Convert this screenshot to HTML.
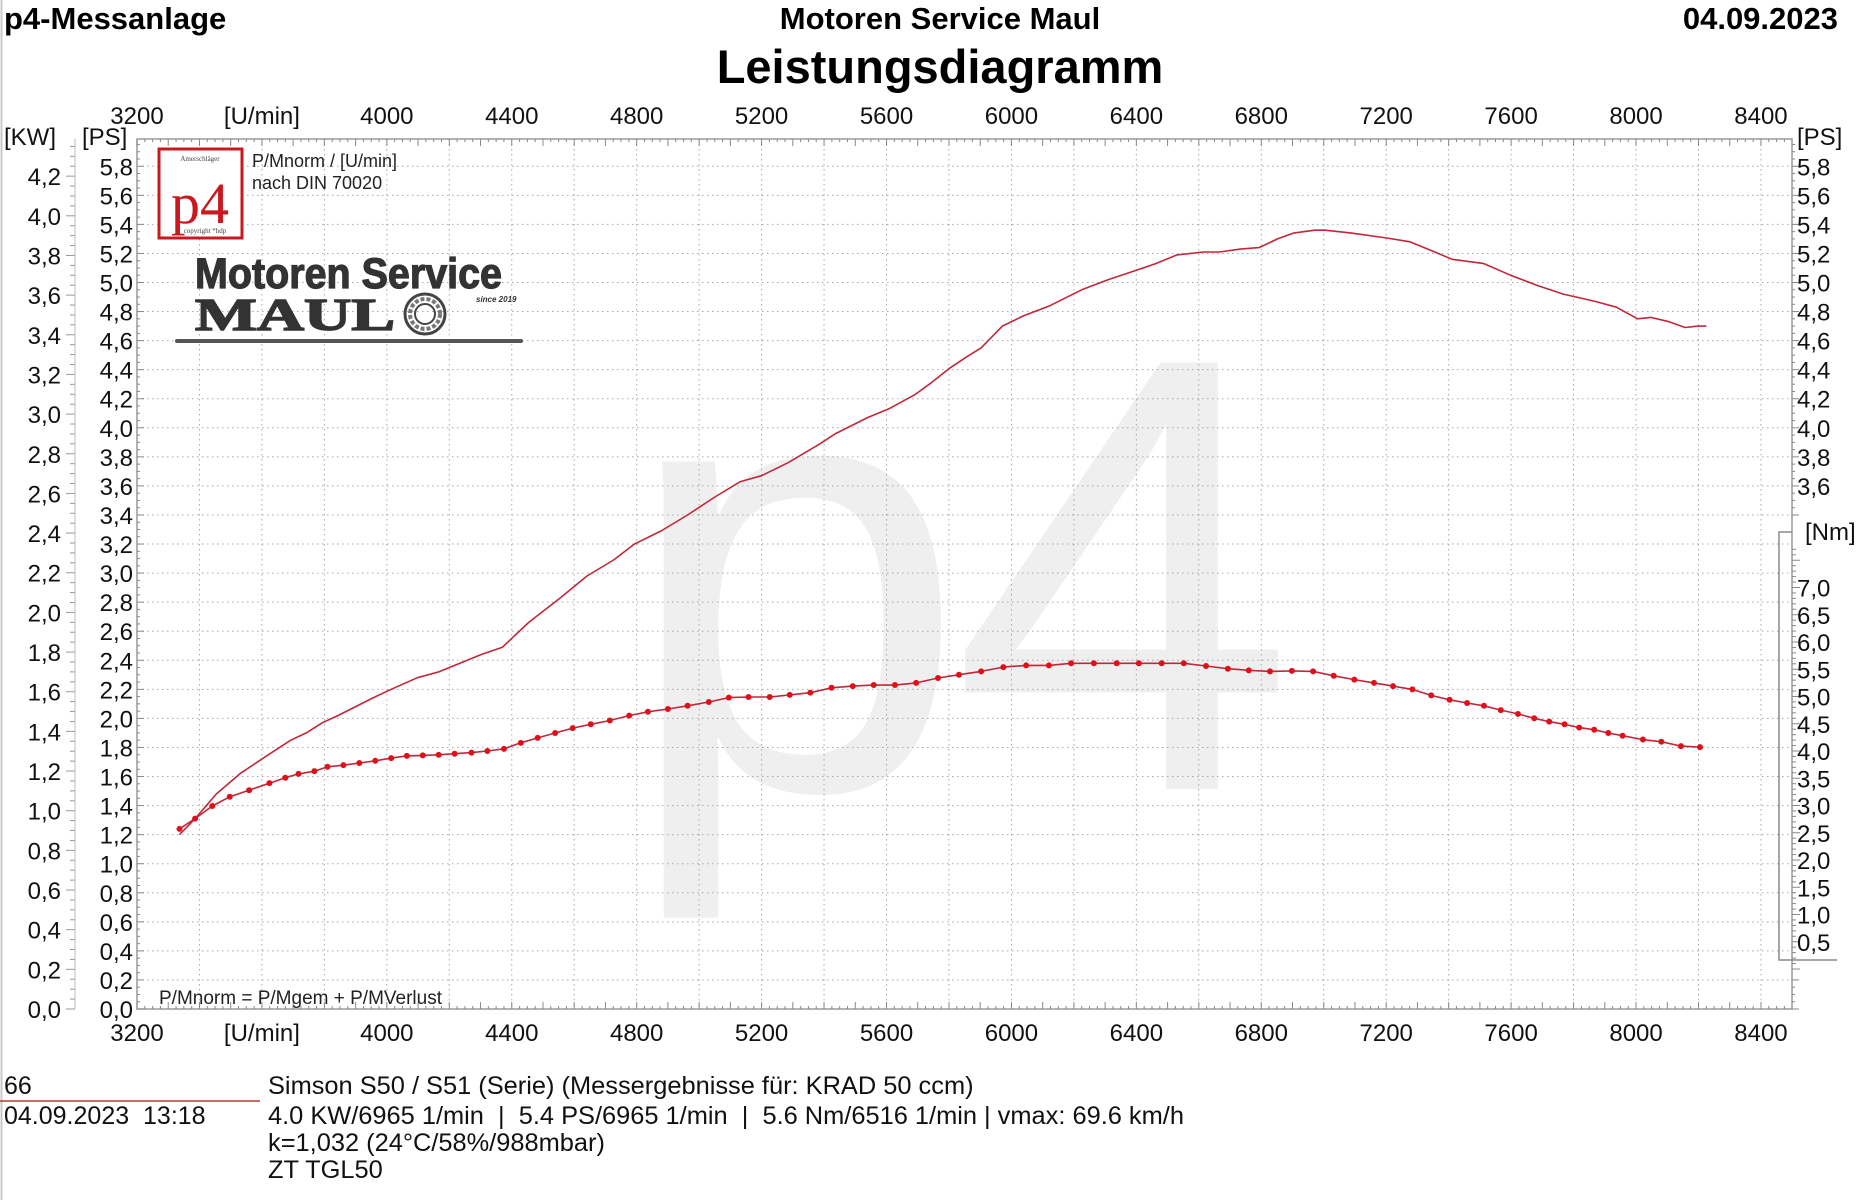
<!DOCTYPE html>
<html><head><meta charset="utf-8">
<style>
html,body{margin:0;padding:0;background:#fff;}
svg{display:block;font-family:"Liberation Sans",Arial,sans-serif;}
</style></head>
<body>
<svg id="chart" width="1866" height="1200" viewBox="0 0 1866 1200" xmlns="http://www.w3.org/2000/svg">
  <rect x="0" y="0" width="1866" height="1200" fill="#fff"/>
  <line x1="1.5" y1="0" x2="1.5" y2="1200" stroke="#c8c8c8" stroke-width="2"/>
  <!-- header -->
  <text x="4" y="29" font-size="31" font-weight="bold">p4-Messanlage</text>
  <text x="940" y="29" font-size="31" font-weight="bold" text-anchor="middle">Motoren Service Maul</text>
  <text x="940" y="83" font-size="47" font-weight="bold" text-anchor="middle">Leistungsdiagramm</text>
  <text x="1838" y="29" font-size="31" font-weight="bold" text-anchor="end">04.09.2023</text>

  <!-- watermark -->
  <g font-size="620" fill="#efefef">
    <text x="622" y="789">p</text>
    <text x="951" y="789">4</text>
  </g>

  <g id="grid"></g>
  <rect x="137" y="139" width="1655" height="870" fill="none" stroke="#9a9a9a" stroke-width="1.5"/>
  <g id="ticks"></g>
  <g id="labels"></g>

  <!-- p4 logo box -->
  <g>
    <rect x="159" y="149" width="83" height="89" fill="#fff" stroke="#c8191e" stroke-width="3"/>
    <text x="200" y="161" font-size="7" font-family="Liberation Serif,serif" text-anchor="middle" fill="#444">Amerschläger</text>
    <text x="200" y="223" font-size="58" font-family="Liberation Serif,serif" text-anchor="middle" fill="#c8191e">p4</text>
    <text x="205" y="233" font-size="7" font-family="Liberation Serif,serif" text-anchor="middle" fill="#444">copyright *hdp</text>
  </g>
  <text x="252" y="167" font-size="18" fill="#222">P/Mnorm / [U/min]</text>
  <text x="252" y="189" font-size="18" fill="#222">nach DIN 70020</text>
  <!-- company logo -->
  <g>
    <text x="195" y="288" font-size="43" font-weight="bold" fill="#333" stroke="#333" stroke-width="1.2" textLength="307" lengthAdjust="spacingAndGlyphs">Motoren Service</text>
    <text x="195" y="330" font-size="46" font-weight="bold" font-family="Liberation Serif,serif" fill="#333" stroke="#333" stroke-width="1.5" textLength="200" lengthAdjust="spacingAndGlyphs">MAUL</text>
    <circle cx="425" cy="314" r="20" fill="none" stroke="#444" stroke-width="3"/>
    <circle cx="425" cy="314" r="10" fill="none" stroke="#444" stroke-width="2"/>
    <circle cx="425" cy="314" r="15" fill="none" stroke="#777" stroke-width="4" stroke-dasharray="4 2"/>
    <text x="476" y="302" font-size="8" font-style="italic" font-weight="bold" fill="#333">since 2019</text>
    <rect x="175" y="339" width="348" height="4" rx="2" fill="#555"/>
  </g>
  <text x="159" y="1004" font-size="19" fill="#222">P/Mnorm = P/Mgem + P/MVerlust</text>

  <!-- Nm axis bracket -->
  <path d="M1792 532 H1779 V960 H1837" fill="none" stroke="#8a8a8a" stroke-width="1.5"/>

  <g id="series"></g>

  <!-- footer info -->
  <text x="4" y="1094" font-size="25" fill="#111">66</text>
  <line x1="0" y1="1101" x2="260" y2="1101" stroke="#c0392b" stroke-width="1.5"/>
  <text x="4" y="1124" font-size="25" fill="#111">04.09.2023&#160;&#160;13:18</text>
  <text x="268" y="1094" font-size="25.4" fill="#111">Simson S50 / S51 (Serie) (Messergebnisse für: KRAD 50 ccm)</text>
  <text x="268" y="1124" font-size="25.4" fill="#111">4.0 KW/6965 1/min&#160;&#160;|&#160;&#160;5.4 PS/6965 1/min&#160;&#160;|&#160;&#160;5.6 Nm/6516 1/min | vmax: 69.6 km/h</text>
  <text x="268" y="1151" font-size="25.4" fill="#111">k=1,032 (24°C/58%/988mbar)</text>
  <text x="268" y="1178" font-size="25.4" fill="#111">ZT TGL50</text>
</svg>
<script>
// ---- data ----
const rpmTicks = [3200, 3600, 4000, 4400, 4800, 5200, 5600, 6000, 6400, 6800, 7200, 7600, 8000, 8400];
const psTicksLeft = [0,0.2,0.4,0.6,0.8,1.0,1.2,1.4,1.6,1.8,2.0,2.2,2.4,2.6,2.8,3.0,3.2,3.4,3.6,3.8,4.0,4.2,4.4,4.6,4.8,5.0,5.2,5.4,5.6,5.8];
const psTicksRight = [3.6,3.8,4.0,4.2,4.4,4.6,4.8,5.0,5.2,5.4,5.6,5.8];
const kwTicks = [0,0.2,0.4,0.6,0.8,1.0,1.2,1.4,1.6,1.8,2.0,2.2,2.4,2.6,2.8,3.0,3.2,3.4,3.6,3.8,4.0,4.2];
const nmTicks = [0.5,1.0,1.5,2.0,2.5,3.0,3.5,4.0,4.5,5.0,5.5,6.0,6.5,7.0];

const powerRpm = [3336,3386,3454,3530,3607,3692,3742,3793,3844,3954,4014,4098,4166,4234,4302,4370,4454,4556,4641,4726,4793,4878,4963,5048,5132,5200,5285,5387,5437,5539,5607,5692,5743,5802,5858,5903,5971,6038,6123,6225,6310,6394,6462,6530,6615,6666,6733,6793,6852,6903,6971,7005,7089,7191,7276,7344,7411,7513,7598,7683,7767,7869,7937,8005,8047,8106,8157,8199,8225];
const powerPs = [1.20,1.31,1.48,1.62,1.73,1.85,1.90,1.97,2.02,2.14,2.20,2.28,2.32,2.38,2.44,2.49,2.66,2.83,2.98,3.09,3.20,3.29,3.40,3.52,3.63,3.67,3.76,3.89,3.96,4.07,4.13,4.23,4.31,4.41,4.49,4.55,4.70,4.77,4.84,4.95,5.02,5.08,5.13,5.19,5.21,5.21,5.23,5.24,5.30,5.34,5.36,5.36,5.34,5.31,5.28,5.22,5.16,5.13,5.05,4.98,4.92,4.87,4.83,4.75,4.76,4.73,4.69,4.70,4.70];

const torqueRpm = [3336,3386,3441,3497,3559,3624,3675,3717,3768,3810,3861,3912,3963,4014,4064,4115,4166,4217,4271,4322,4375,4429,4483,4539,4595,4653,4714,4776,4836,4900,4963,5031,5095,5158,5226,5290,5356,5424,5492,5559,5627,5695,5765,5832,5903,5974,6047,6120,6191,6264,6337,6408,6481,6552,6623,6693,6760,6828,6898,6966,7032,7098,7161,7222,7284,7344,7403,7459,7513,7567,7622,7674,7722,7771,7818,7866,7911,7957,8022,8081,8144,8205];
const torqueNm = [2.57,2.76,2.99,3.16,3.28,3.41,3.51,3.58,3.63,3.71,3.74,3.78,3.82,3.87,3.91,3.92,3.93,3.95,3.97,4.00,4.04,4.15,4.24,4.33,4.42,4.49,4.56,4.65,4.72,4.77,4.83,4.90,4.98,4.99,4.99,5.03,5.07,5.16,5.19,5.21,5.21,5.25,5.34,5.40,5.46,5.54,5.57,5.57,5.61,5.61,5.61,5.61,5.61,5.61,5.56,5.51,5.48,5.46,5.47,5.46,5.38,5.31,5.25,5.19,5.13,5.02,4.94,4.88,4.83,4.75,4.68,4.60,4.54,4.49,4.43,4.39,4.33,4.28,4.21,4.17,4.09,4.07];

// ---- scales ----
const X = r => 137 + (r - 3200) * 0.3123;
const Yps = p => 1009 - p * 145.3;
const Ykw = k => 1009 - k * 198.3;
const Ynm = n => 969 - n * 54.5;
const NS = 'http://www.w3.org/2000/svg';
function mk(tag, attrs, parent, txt) {
  const e = document.createElementNS(NS, tag);
  for (const k in attrs) e.setAttribute(k, attrs[k]);
  if (txt !== undefined) e.textContent = txt;
  parent.appendChild(e);
  return e;
}
const fmt = v => v.toFixed(1).replace('.', ',');
const grid = document.getElementById('grid');
const ticks = document.getElementById('ticks');
const labels = document.getElementById('labels');
const series = document.getElementById('series');

for (let r = 3400; r <= 8400; r += 200) {
  const l = mk('line', {x1: X(r), y1: 139, x2: X(r), y2: 1009, stroke: '#a8a8a8', 'stroke-width': 1, 'stroke-dasharray': '1.5 3.5'}, grid);
  
  
}
for (let i = 1; i <= 29; i++) {
  const y = Yps(i * 0.2);
  const l = mk('line', {x1: 137, y1: y, x2: 1792, y2: y, stroke: '#a8a8a8', 'stroke-width': 1, 'stroke-dasharray': '1.5 3.5'}, grid);
  
  
}
for (let r = 3200; r <= 8500; r += 25) {
  const x = X(r); if (x > 1792) break;
  const len = (r % 100 === 0) ? 7 : 3;
  mk('line', {x1: x, y1: 1009, x2: x, y2: 1009 - len, stroke: '#888', 'stroke-width': 1}, ticks);
  mk('line', {x1: x, y1: 139, x2: x, y2: 139 + len, stroke: '#888', 'stroke-width': 1}, ticks);
}
for (let p = 0; p <= 5.95; p += 0.05) {
  const y = Yps(p);
  const len = (Math.round(p * 100) % 20 === 0) ? 7 : 3;
  mk('line', {x1: 137, y1: y, x2: 137 + len, y2: y, stroke: '#888', 'stroke-width': 1}, ticks);
  if (y < 520 || y > 975) mk('line', {x1: 1792, y1: y, x2: 1792 + len, y2: y, stroke: '#888', 'stroke-width': 1}, ticks);
}
mk('line', {x1: 75, y1: 139, x2: 75, y2: 1009, stroke: '#bbb', 'stroke-width': 1}, ticks);
for (let k = 0; k <= 4.4; k += 0.05) {
  const y = Ykw(k); if (y < 139) break;
  const len = (Math.round(k * 100) % 20 === 0) ? 9 : 5;
  mk('line', {x1: 75 - len, y1: y, x2: 75, y2: y, stroke: '#999', 'stroke-width': 1}, ticks);
}
for (let n = 0; n <= 7.75; n += 0.1) {
  const y = Ynm(n);
  const len = (Math.round(n * 10) % 5 === 0) ? 8 : 4;
  mk('line', {x1: 1792, y1: y, x2: 1792 + len, y2: y, stroke: '#888', 'stroke-width': 1}, ticks);
}

rpmTicks.forEach((r, i) => {
  const txt = (i === 1) ? '[U/min]' : String(r);
  const t1 = mk('text', {x: X(r), y: 124, 'font-size': 24, 'text-anchor': 'middle', fill: '#111'}, labels, txt);
  
  
  const t2 = mk('text', {x: X(r), y: 1041, 'font-size': 24, 'text-anchor': 'middle', fill: '#111'}, labels, txt);
  
  
});
psTicksLeft.forEach(p => {
  const t = mk('text', {x: 133, y: Yps(p) + 9, 'font-size': 24, 'text-anchor': 'end', fill: '#111'}, labels, fmt(p));
  
  
});
psTicksRight.forEach(p => {
  const t = mk('text', {x: 1797, y: Yps(p) + 9, 'font-size': 24, fill: '#111'}, labels, fmt(p));
  
  
});
kwTicks.forEach(k => {
  const t = mk('text', {x: 61, y: Ykw(k) + 9, 'font-size': 24, 'text-anchor': 'end', fill: '#111'}, labels, fmt(k));
  
  
});
nmTicks.forEach(n => {
  const t = mk('text', {x: 1797, y: Ynm(n) + 9, 'font-size': 24, fill: '#111'}, labels, fmt(n));
  
  
});
[['[KW]', 4, 145, 'kw-axis-title'], ['[PS]', 82, 145, 'ps-left-axis-title'], ['[PS]', 1797, 145, 'ps-right-axis-title'], ['[Nm]', 1805, 540, 'nm-axis-title']].forEach(a => {
  const t = mk('text', {x: a[1], y: a[2], 'font-size': 24, fill: '#111'}, labels, a[0]);
  
  
});

const pPts = powerRpm.map((r, i) => X(r).toFixed(1) + ',' + Yps(powerPs[i]).toFixed(1)).join(' ');
const pl = mk('polyline', {points: pPts, fill: 'none', stroke: '#c0283a', 'stroke-width': 1.6, 'stroke-linejoin': 'round'}, series);


const tPts = torqueRpm.map((r, i) => X(r).toFixed(1) + ',' + Ynm(torqueNm[i]).toFixed(1)).join(' ');
const tl = mk('polyline', {points: tPts, fill: 'none', stroke: '#c0283a', 'stroke-width': 1.6, 'stroke-linejoin': 'round'}, series);


torqueRpm.forEach((r, i) => {
  const c = mk('circle', {cx: X(r), cy: Ynm(torqueNm[i]), r: 3, fill: '#e0101a'}, series);
  
  
});
</script>
</body></html>
